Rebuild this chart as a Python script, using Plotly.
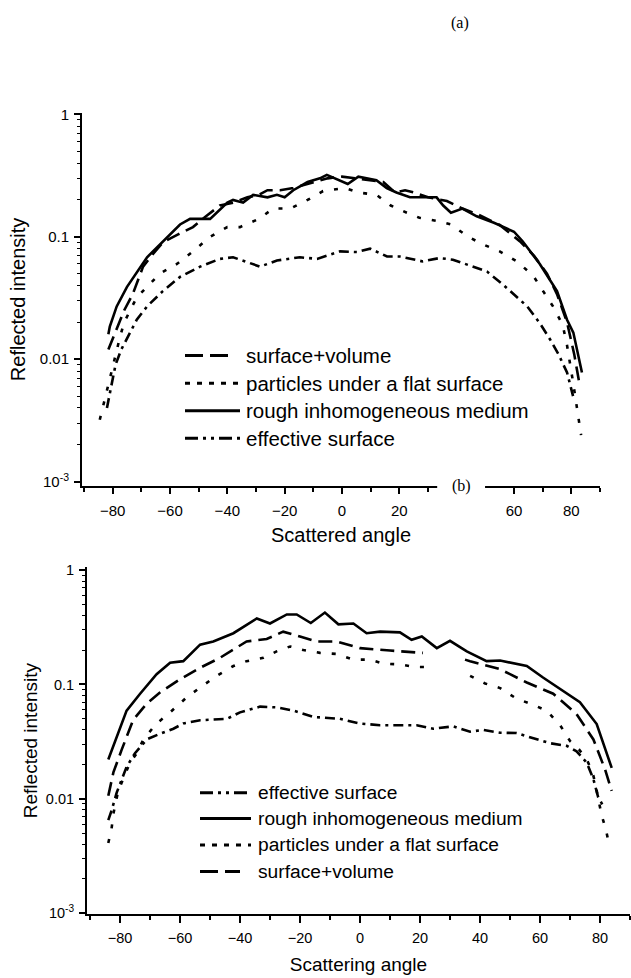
import plotly.graph_objects as go

W, H = 631, 978

# ---------------- data: panel (a) ----------------
a_solid_x = [-81.5, -81, -78.6, -75, -68, -63.5, -56.5, -53, -46, -40, -38, -34.5, -31, -26, -22.7, -20, -17, -12,
             -7.7, -5.3, -0.7, 2, 5.7, 8.6, 12, 15.6, 19, 23.7, 28, 33, 35.3, 38, 42, 47, 53, 60, 63, 69, 75,
             78.5, 80.7, 83.7]
a_solid_y = [0.016, 0.0185, 0.027, 0.039, 0.068, 0.087, 0.126, 0.14, 0.14, 0.19, 0.20, 0.19, 0.22, 0.21, 0.22, 0.21,
             0.24, 0.28, 0.30, 0.32, 0.29, 0.27, 0.31, 0.30, 0.29, 0.25, 0.23, 0.21, 0.21, 0.21, 0.18, 0.157, 0.17,
             0.147, 0.13, 0.11, 0.092, 0.06, 0.036, 0.021, 0.0165, 0.0078]

a_dash_x = [-81.5, -79, -76, -73, -69.4, -66, -62.5, -57, -52, -47, -42.6, -38, -33, -29, -26, -21.6, -17, -14.7,
            -10, -5, 0, 5, 10, 14.4, 18.5, 22, 25, 30, 36.6, 42, 48, 55, 62, 67, 71.5, 75, 78.5, 81, 83]
a_dash_y = [0.012, 0.017, 0.025, 0.034, 0.057, 0.072, 0.09, 0.105, 0.12, 0.15, 0.18, 0.19, 0.21, 0.22, 0.24, 0.24,
            0.25, 0.26, 0.28, 0.30, 0.31, 0.30, 0.29, 0.28, 0.23, 0.24, 0.23, 0.21, 0.196, 0.17, 0.15, 0.125,
            0.092, 0.07, 0.05, 0.034, 0.02, 0.011, 0.006]

a_dot_x = [-84.5, -82.5, -80.5, -79, -77.5, -76, -71.6, -68, -63.5, -57.6, -52, -46, -40, -35.6, -29, -24, -18,
           -12, -6.6, 1, 5.7, 12, 17, 22.6, 27, 33, 38, 44, 49, 55, 61, 66.7, 71, 73.6, 77, 78.5, 80.6, 82, 83.4]
a_dot_y = [0.0032, 0.005, 0.0075, 0.011, 0.015, 0.02, 0.032, 0.039, 0.05, 0.06, 0.076, 0.10, 0.12, 0.12, 0.14,
           0.17, 0.17, 0.20, 0.236, 0.25, 0.23, 0.22, 0.18, 0.157, 0.143, 0.135, 0.126, 0.10, 0.087, 0.076, 0.063,
           0.048, 0.034, 0.027, 0.019, 0.013, 0.0065, 0.0038, 0.0024]

a_eff_x = [-82, -80.5, -79, -77, -74, -71.6, -68, -62.5, -56.5, -49.5, -42.6, -38, -33, -28.6, -22.7, -14.7, -8.7,
           -0.7, 5.2, 9.8, 15.7, 20.2, 28, 34, 38.7, 44.7, 50.6, 56, 60, 64.6, 69, 72.6, 75.5, 78.5, 80.6]
a_eff_y = [0.004, 0.006, 0.009, 0.012, 0.0164, 0.021, 0.027, 0.036, 0.047, 0.057, 0.066, 0.068, 0.062, 0.057,
           0.064, 0.068, 0.066, 0.076, 0.075, 0.08, 0.069, 0.069, 0.063, 0.067, 0.065, 0.058, 0.052, 0.041, 0.034,
           0.027, 0.0197, 0.0145, 0.011, 0.0078, 0.005]

# ---------------- data: panel (b) ----------------
b_solid_x = [-83.9, -81.1, -77.8, -73.3, -67.8, -63.3, -58.9, -53.3, -48.9, -42.2, -34.4, -30, -24.4, -21.1,
             -16.4, -11.7, -7.2, -2.2, 2.2, 6.7, 13.3, 17.2, 20.6, 25.6, 30, 35.6, 42.2, 46.7, 55.6, 61, 66.7,
             73.3, 78.9, 83.9]
b_solid_y = [0.022, 0.035, 0.059, 0.083, 0.123, 0.155, 0.16, 0.223, 0.238, 0.281, 0.378, 0.342, 0.41, 0.41,
             0.345, 0.426, 0.336, 0.342, 0.281, 0.29, 0.286, 0.246, 0.263, 0.208, 0.241, 0.195, 0.16, 0.162, 0.145,
             0.115, 0.091, 0.07, 0.045, 0.0186]

b_dash_x = [-83.9, -82.2, -79.4, -75.6, -71.1, -66.7, -60, -53.3, -46.7, -37.8, -31.1, -25.6, -20, -14.4, -7.8,
            0, 10, 18.9, 21, None, 35, 36.7, 46.7, 55.6, 64.4, 72.2, 77.8, 81.7, 83.9]
b_dash_y = [0.0106, 0.017, 0.027, 0.049, 0.068, 0.085, 0.111, 0.14, 0.171, 0.238, 0.25, 0.29, 0.263, 0.238, 0.238,
            0.208, 0.198, 0.189, 0.189, None, 0.165, 0.16, 0.136, 0.104, 0.083, 0.055, 0.033, 0.018, 0.0117]

b_dot_x = [-83.9, -82.8, -82.2, -80.6, -76.7, -74.4, -72.2, -68, -63.3, -57.8, -53.3, -47.8, -42.2, -37.8, -32.2,
           -27.8, -23.3, -18.9, -13.3, -7.8, -2.2, 3.3, 7.8, 13.3, 18.3, 23.3, None, 36.7, 41.7, 46.7, 52.2, 56.7,
           62.2, 66.7, 70, 73, 75.6, 77.5, 78.5, 79.4, 80.6, 82, 83.1]
b_dot_y = [0.0041, 0.0055, 0.0074, 0.0117, 0.0206, 0.025, 0.033, 0.045, 0.057, 0.077, 0.094, 0.119, 0.145, 0.16,
           0.171, 0.195, 0.215, 0.20, 0.189, 0.185, 0.165, 0.165, 0.152, 0.15, 0.142, 0.142, None, 0.119, 0.102,
           0.093, 0.075, 0.068, 0.059, 0.044, 0.032, 0.027, 0.022, 0.017, 0.0134, 0.010, 0.0071, 0.0053, 0.0039]

b_eff_x = [-83.9, -82.8, -81.1, -77.8, -75, -71.1, -66.7, -62.2, -58.9, -53.3, -44.4, -40, -33.3, -27.8, -22.2,
           -15.6, -6.7, 0, 6.7, 12.2, 18.9, 24.4, 31.1, 36.7, 41.1, 46.7, 52.2, 57.8, 63.3, 68.9, 72.2, 75.6, 77.8,
           79.4, 81]
b_eff_y = [0.0065, 0.0079, 0.0113, 0.019, 0.025, 0.033, 0.037, 0.041, 0.0455, 0.0486, 0.050, 0.057, 0.064, 0.063,
           0.059, 0.052, 0.050, 0.0455, 0.044, 0.044, 0.044, 0.041, 0.043, 0.0386, 0.040, 0.0378, 0.0376, 0.0338,
           0.0306, 0.029, 0.026, 0.0206, 0.0148, 0.0103, 0.0087]

labels = {
    "dash": "surface+volume",
    "dot": "particles under a flat surface",
    "solid": "rough inhomogeneous medium",
    "eff": "effective surface",
}
legend_a_order = ["dash", "dot", "solid", "eff"]
legend_b_order = ["eff", "solid", "dot", "dash"]

x_major = [-80, -60, -40, -20, 0, 20, 40, 60, 80]
x_major_a = [-80, -60, -40, -20, 0, 20, 60, 80]
x_minor = [-90, -70, -50, -30, -10, 10, 30, 50, 70, 90]
x_minor_a = [-90, -70, -50, -30, -10, 10, 30, 70, 90]
y_major = [1e-3, 1e-2, 1e-1, 1]
y_major_text = ["10<sup>-3</sup>", "0.01", "0.1", "1"]
y_minor = [m * 10 ** k for k in (-3, -2, -1) for m in range(2, 10)]

# ---------------- styling ----------------
SANS = "Liberation Sans, Arial, sans-serif"
SERIF = "Liberation Serif, Times New Roman, serif"
DASH = {"dash": "14px,7px", "dot": "4px,11px", "solid": "solid", "eff": "10px,5px,3px,5px"}
LEG_DASH = {"dash": "18px,7px", "dot": "5px,7px", "solid": "solid", "eff": "13px,5px,3px,5px,3px,5px"}
LW = 2.6


def px(x):
    return x / W


def py(y):
    return 1 - y / H


fig = go.Figure()

series_a = {"solid": (a_solid_x, a_solid_y), "dash": (a_dash_x, a_dash_y),
            "dot": (a_dot_x, a_dot_y), "eff": (a_eff_x, a_eff_y)}
series_b = {"solid": (b_solid_x, b_solid_y), "dash": (b_dash_x, b_dash_y),
            "dot": (b_dot_x, b_dot_y), "eff": (b_eff_x, b_eff_y)}

for key, (xs, ys) in series_a.items():
    fig.add_trace(go.Scatter(x=xs, y=ys, mode="lines", name=labels[key], showlegend=False,
                             line=dict(color="black", width=LW, dash=DASH[key]),
                             xaxis="x", yaxis="y"))
for key, (xs, ys) in series_b.items():
    fig.add_trace(go.Scatter(x=xs, y=ys, mode="lines", name=labels[key], showlegend=False,
                             line=dict(color="black", width=LW, dash=DASH[key]),
                             xaxis="x2", yaxis="y2"))

common_axis = dict(showline=True, linecolor="black", linewidth=2, showgrid=False, zeroline=False,
                   ticks="outside", tickcolor="black", tickwidth=1.5)

fig.update_layout(
    width=W, height=H,
    margin=dict(l=0, r=0, t=0, b=0),
    paper_bgcolor="white", plot_bgcolor="white",
    showlegend=False,
    font=dict(family=SANS, color="black"),
    xaxis=dict(**common_axis, domain=[px(82), px(600)], range=[-90.7, 90], anchor="y",
               tickmode="array", tickvals=x_major_a, ticklen=6, ticklabelstandoff=4,
               tickfont=dict(size=15, family=SANS),
               title=dict(text="Scattered angle", font=dict(size=20), standoff=10),
               minor=dict(tickmode="array", tickvals=x_minor_a, ticks="outside", ticklen=4,
                          tickcolor="black", tickwidth=1.5)),
    yaxis=dict(**common_axis, type="log", domain=[py(485), py(107)], range=[-3.032, 0.008], anchor="x",
               tickmode="array", tickvals=y_major, ticktext=y_major_text, ticklen=6, ticklabelstandoff=2,
               tickfont=dict(size=15, family=SANS),
               title=dict(text="Reflected intensity", font=dict(size=20), standoff=9),
               minor=dict(tickmode="array", tickvals=y_minor, ticks="outside", ticklen=3.5,
                          tickcolor="black", tickwidth=1.2)),
    xaxis2=dict(**common_axis, domain=[px(87), px(630)], range=[-91, 90], anchor="y2",
                tickmode="array", tickvals=x_major, ticklen=7, ticklabelstandoff=3,
                tickfont=dict(size=14.5, family=SANS),
                title=dict(text="Scattering angle", font=dict(size=19), standoff=12),
                minor=dict(tickmode="array", tickvals=x_minor, ticks="outside", ticklen=4.5,
                           tickcolor="black", tickwidth=1.5)),
    yaxis2=dict(**common_axis, type="log", domain=[py(920), py(568)], range=[-3.0086, 0.0259], anchor="x2",
                tickmode="array", tickvals=y_major, ticktext=y_major_text, ticklen=6, ticklabelstandoff=2,
                tickfont=dict(size=14.5, family=SANS),
                title=dict(text="Reflected intensity", font=dict(size=19), standoff=3),
                minor=dict(tickmode="array", tickvals=y_minor, ticks="outside", ticklen=3.5,
                           tickcolor="black", tickwidth=1.2)),
)

shapes = []
annotations = []

# break in the x axis of panel (a), with the "(b)" label sitting in it
shapes.append(dict(type="rect", xref="x", yref="paper", x0=33.2, x1=49.9, y0=py(496), y1=py(480),
                   fillcolor="white", line=dict(width=0), layer="above"))
annotations.append(dict(text="(b)", x=px(461), y=py(485), xref="paper", yref="paper", showarrow=False,
                        xanchor="center", yanchor="middle", font=dict(family=SERIF, size=16)))
annotations.append(dict(text="(a)", x=px(460), y=py(15), xref="paper", yref="paper", showarrow=False,
                        xanchor="center", yanchor="middle", font=dict(family=SERIF, size=16)))


# legends drawn as line samples + labels
def add_legend(order, x0, x1, x1_dash, xt, rows, size):
    for key, yrow in zip(order, rows):
        end = x1_dash if key == "dash" else x1
        shapes.append(dict(type="line", xref="paper", yref="paper", x0=px(x0), x1=px(end),
                           y0=py(yrow), y1=py(yrow),
                           line=dict(color="black", width=3, dash=LEG_DASH[key])))
        annotations.append(dict(text=labels[key], x=px(xt), y=py(yrow), xref="paper", yref="paper",
                                showarrow=False, xanchor="left", yanchor="middle", font=dict(size=size)))


add_legend(legend_a_order, 185, 240, 228, 244, [353, 381, 409, 437], 20.5)
add_legend(legend_b_order, 200, 251, 240, 256, [797, 823, 850, 877], 19.2)

fig.update_layout(shapes=shapes, annotations=annotations)

fig.write_html("out.html")
